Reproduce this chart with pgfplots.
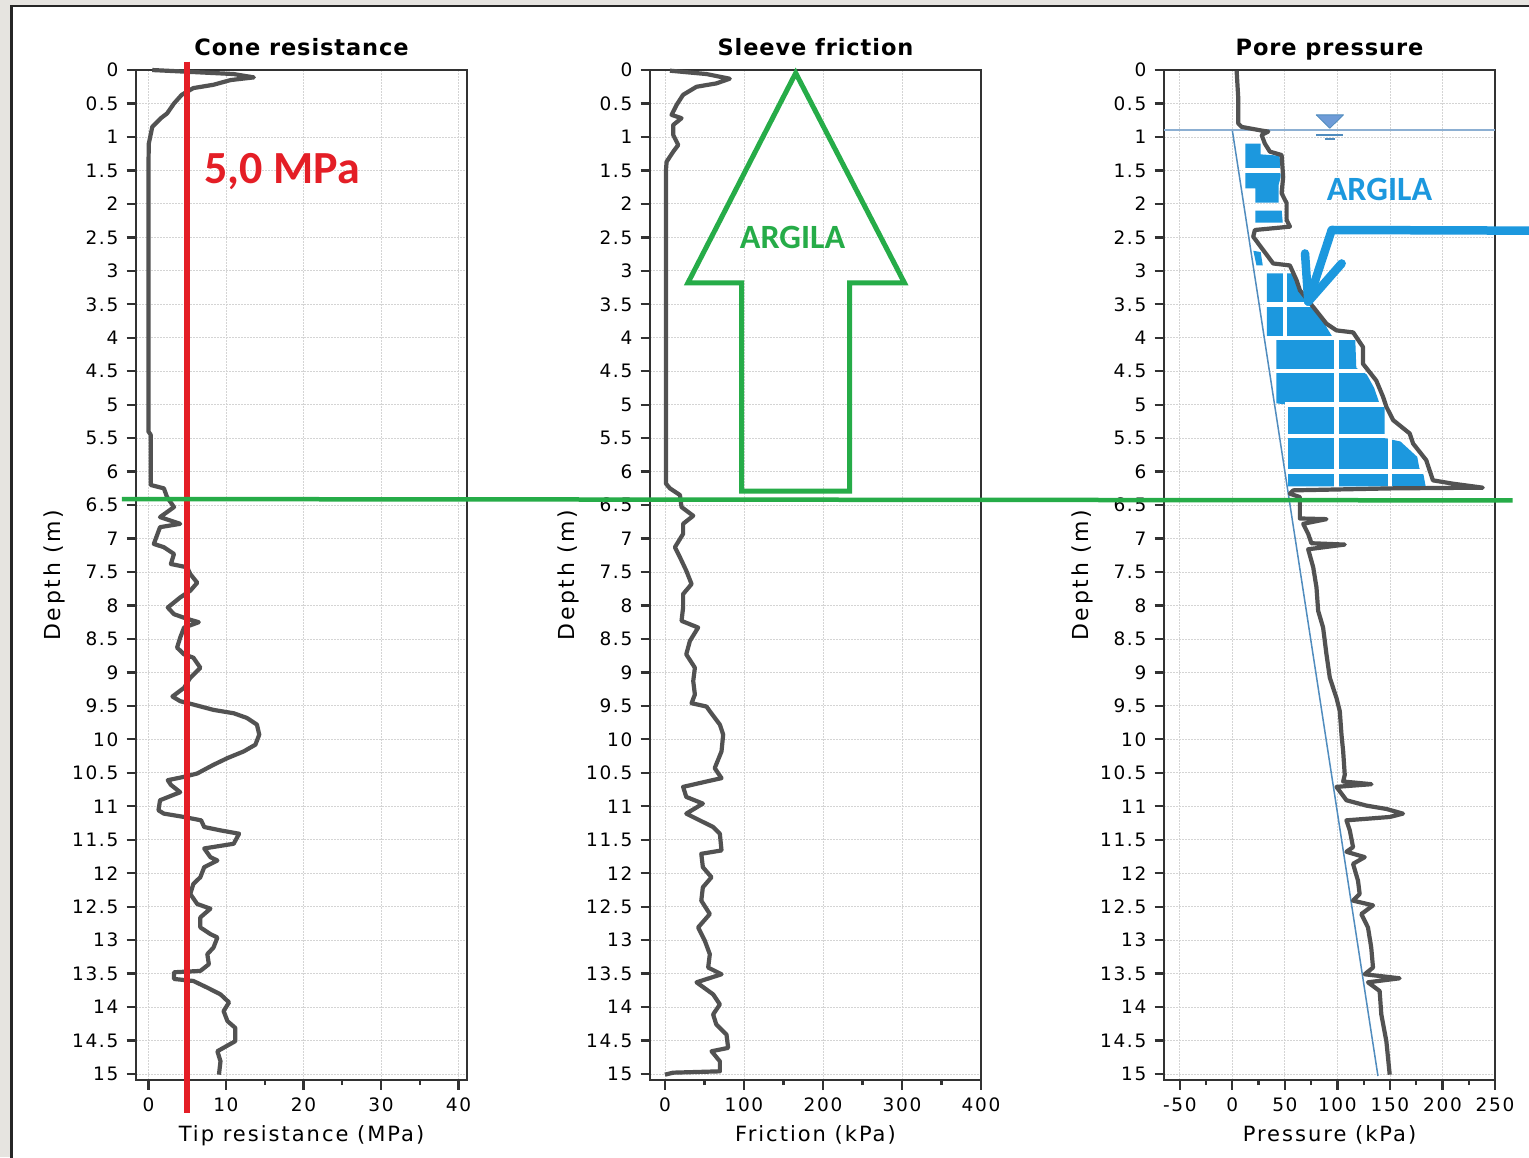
\documentclass[border=0pt]{standalone}
\usepackage{pgfplots}
\pgfplotsset{compat=1.18}
\usepackage{fontspec}
\setmainfont{DejaVu Sans}
\newfontfamily\tickfont[LetterSpace=9]{DejaVu Sans}
\newfontfamily\labfont[LetterSpace=9.5]{DejaVu Sans}
\newfontfamily\ylabfont[LetterSpace=12]{DejaVu Sans}
\newfontfamily\titfont[LetterSpace=4]{DejaVu Sans}
\newfontfamily\annfont{Carlito}

\definecolor{curve}{RGB}{82,82,82}
\definecolor{gridc}{RGB}{212,212,212}
\definecolor{axc}{RGB}{50,50,50}
\definecolor{pred}{RGB}{228,30,38}
\definecolor{pgreen}{RGB}{38,172,72}
\definecolor{pblue}{RGB}{28,152,222}
\definecolor{hydro}{RGB}{80,140,190}
\definecolor{wt}{RGB}{140,175,210}
\definecolor{wtfill}{RGB}{110,155,215}
\definecolor{bggray}{RGB}{230,228,224}

\pgfplotsset{cpt/.style={
  scale only axis, width=331pt, height=1010pt,
  y dir=reverse, ymin=0, ymax=15.09,
  ytick={0,0.5,1,1.5,2,2.5,3,3.5,4,4.5,5,5.5,6,6.5,7,7.5,8,8.5,9,9.5,10,10.5,11,11.5,12,12.5,13,13.5,14,14.5,15},
  clip=false,
  axis line style={axc, line width=2pt},
  tick style={axc, line width=2.3pt},
  tick align=outside,
  major tick length=9.5pt,
  minor tick length=5pt,
  tick pos=left,
  minor x tick num=1,
  grid=major,
  major grid style={gridc, line width=0.8pt, dash pattern=on 2pt off 1pt},
  /pgf/number format/assume math mode=true,
  tick label style={font=\tickfont\fontsize{18.5}{20}\selectfont},
  yticklabel style={anchor=east, inner sep=0pt, xshift=-8pt},
  xticklabel style={anchor=base, inner sep=0pt, yshift=-21.5pt},
  every axis x label/.style={at={(axis description cs:0.5,0)}, anchor=base, yshift=-61.7pt, inner sep=0pt, font=\labfont\fontsize{21}{24}\selectfont},
  every axis y label/.style={at={(axis description cs:-0.228,0.5)}, rotate=90, anchor=base, inner sep=0pt, font=\ylabfont\fontsize{22}{24}\selectfont},
  every axis title/.style={at={(axis description cs:0.5,1)}, anchor=base, yshift=15pt, inner sep=0pt, font=\titfont\bfseries\fontsize{22.5}{26}\selectfont},
  ylabel={Depth (m)},
  every axis plot/.append style={line join=round},
}}

\pgfplotstableread{
x y
0.5 0.0
11 0.06
13.6 0.11
10.6 0.15
8.4 0.22
5.8 0.27
4.3 0.37
3.3 0.50
2.4 0.65
1.6 0.72
0.5 0.85
0.05 1.1
0.0 1.5
0.0 5.4
0.3 5.45
0.3 6.2
2.0 6.25
2.4 6.38
3.3 6.53
1.5 6.68
4.1 6.78
1.5 6.83
0.7 7.08
2.0 7.13
3.3 7.23
2.9 7.38
5.0 7.43
5.4 7.53
6.3 7.66
5.4 7.78
4.1 7.88
2.5 8.03
3.3 8.13
5.0 8.20
6.5 8.25
4.6 8.33
4.1 8.48
3.7 8.63
4.6 8.73
5.8 8.78
6.7 8.93
5.4 9.08
4.6 9.23
3.1 9.36
4.1 9.43
5.8 9.48
8.4 9.56
11.0 9.61
12.7 9.68
14.0 9.78
14.3 9.93
13.8 10.08
12.3 10.18
10.2 10.28
8.4 10.38
6.3 10.51
4.6 10.56
2.5 10.61
2.9 10.68
4.1 10.79
1.5 10.91
1.3 11.06
2.0 11.11
4.6 11.16
6.8 11.21
7.2 11.31
9.3 11.36
11.7 11.41
11.0 11.56
7.2 11.63
8.0 11.76
8.9 11.81
7.2 11.91
6.7 12.06
5.8 12.16
5.4 12.31
6.3 12.46
8.0 12.53
6.7 12.66
6.7 12.81
8.0 12.91
8.9 12.96
8.4 13.11
7.6 13.21
7.8 13.36
6.7 13.46
3.3 13.48
3.3 13.58
5.8 13.61
7.6 13.71
9.3 13.81
10.4 13.93
9.7 14.06
10.2 14.21
11.2 14.31
11.2 14.51
8.9 14.66
9.3 14.81
9.1 15.01
}\qc

\pgfplotstableread{
x y
6.3 0.01
52.6 0.06
82 0.13
65 0.20
40 0.25
23 0.37
14.8 0.52
8.4 0.67
21 0.72
10.5 0.82
10.5 0.97
16.8 1.12
10.5 1.22
2.1 1.37
1.3 1.5
1.3 6.18
6.3 6.25
19 6.35
21 6.53
35.8 6.66
23 6.78
23 6.93
12.6 7.13
19 7.28
27 7.48
33.7 7.68
23 7.83
23 8.03
21 8.23
42 8.33
31.6 8.53
27 8.73
37.9 8.93
35.8 9.13
37.9 9.33
33.7 9.46
52.6 9.51
56.8 9.58
69.5 9.78
73.7 9.93
71.6 10.18
63 10.43
71.6 10.58
52.6 10.63
23 10.71
27 10.86
48 10.96
27 11.11
44 11.21
61 11.31
69.5 11.41
71.6 11.66
46 11.71
48 11.91
58.9 12.06
48 12.21
46 12.41
56.8 12.61
42 12.81
50.5 13.01
56.8 13.21
54.7 13.41
71.6 13.51
40 13.63
61 13.81
69.5 13.96
61 14.11
65 14.26
77.9 14.41
80 14.61
59 14.66
69.5 14.81
69.5 14.96
10.5 14.98
0 15.01
}\fs

\pgfplotstableread{
x y
4.1 0.01
5.7 0.43
5.7 0.80
8.9 0.85
26.3 0.90
34.2 0.92
27.9 0.97
31 1.10
35.8 1.22
46.9 1.27
48.4 1.60
46.9 1.84
51.7 1.99
51.7 2.24
54.8 2.34
21.5 2.39
19.9 2.49
38.9 2.89
54.8 2.92
61.1 3.14
64.3 3.29
77 3.54
89.6 3.79
99.1 3.89
115 3.92
124.4 4.14
124.4 4.39
137 4.64
143.4 4.88
146.6 5.03
153 5.23
168.8 5.43
172 5.58
184.6 5.83
187.7 5.98
190.9 6.13
209.9 6.18
238.4 6.24
153 6.25
58 6.28
54.8 6.33
64.3 6.38
64.3 6.58
64.3 6.70
89.6 6.71
67.4 6.78
72.2 6.93
75.3 7.07
107 7.09
72.2 7.16
77 7.43
80.1 7.73
81.7 8.08
86.4 8.33
89.6 8.73
92.8 9.08
99.1 9.38
102.3 9.58
103.9 9.93
105.5 10.18
107 10.53
105.5 10.63
132.4 10.67
99.1 10.71
108.6 10.91
127.6 10.99
146.6 11.04
162.4 11.11
149.8 11.16
108.6 11.21
111.8 11.36
114.9 11.61
108.6 11.68
126 11.76
114.9 11.86
119.6 12.11
121.2 12.31
114.9 12.41
133.9 12.48
122.8 12.61
129.1 12.81
132.2 13.11
133.9 13.41
126 13.51
159.2 13.57
129.1 13.63
140.2 13.76
141.8 14.11
146.6 14.51
149.8 15.01
}\pp

\begin{document}
\begin{tikzpicture}
\clip (0pt,0pt) rectangle (1529pt,-1157pt);
\fill[bggray] (0pt,0pt) rectangle (1529pt,-1157pt);
\draw[fill=white, draw=black!85, line width=2.5pt] (11.3pt,-6.2pt) rectangle (1580pt,-1200pt);

% ---------- Cone resistance
\begin{axis}[cpt, at={(136pt,-1080pt)}, anchor=south west,
  xmin=-1.6, xmax=41.1, xtick={0,10,20,30,40},
  title={Cone resistance}, xlabel={Tip resistance (MPa)}]
\addplot[curve, line width=4.2pt] table {\qc};
\addplot[pred, line width=6pt] coordinates {(5,-0.124) (5,15.58)};
\node[anchor=base west, inner sep=0pt, text=pred, font=\annfont\bfseries\fontsize{46}{50}\selectfont] at (axis cs:7.2,1.69) {5,0 MPa};
\end{axis}

% ---------- Sleeve friction
\begin{axis}[cpt, at={(650pt,-1080pt)}, anchor=south west,
  xmin=-18.9, xmax=400, xtick={0,100,200,300,400},
  title={Sleeve friction}, xlabel={Friction (kPa)}]
\addplot[curve, line width=4.2pt] table {\fs};
\addplot[pgreen, line width=5pt, line join=miter] coordinates {(165.5,0.045) (303.1,3.18) (233.7,3.18) (233.7,6.29) (96.9,6.29) (96.9,3.18) (29.1,3.18)} -- cycle;
\node[anchor=base west, inner sep=0pt, text=pgreen, font=\annfont\bfseries\fontsize{34}{40}\selectfont] at (axis cs:94.7,2.664) {ARGILA};
\end{axis}

% ---------- Pore pressure
\begin{axis}[cpt, at={(1164pt,-1080pt)}, anchor=south west,
  xmin=-65, xmax=250, xtick={-50,0,50,100,150,200,250},
  title={Pore pressure}, xlabel={Pressure (kPa)}]
% blue fill (clay zone)
\addplot[fill=pblue, draw=none] coordinates {(12.5,1.10) (27,1.10) (27,1.26) (45,1.28) (46,1.60) (44,1.72) (44,1.98) (22,1.98) (22,1.77) (12.5,1.77)} -- cycle;
\addplot[fill=pblue, draw=none] coordinates {(22,2.10) (47,2.10) (48,2.28) (22,2.28)} -- cycle;
\addplot[fill=pblue, draw=none] coordinates {(20,2.70) (27,2.72) (29,2.92) (23,2.92)} -- cycle;
\addplot[fill=pblue, draw=none] coordinates {(33,3.04) (58,3.04) (62,3.2) (68,3.35) (76,3.5) (85,3.7) (90,3.85) (95,3.98) (117,4.02) (118,4.45) (128,4.55) (135,4.75) (140,4.98) (145,5.02) (145,5.5) (160,5.55) (176,5.78) (178,5.95) (182,6.05) (184,6.22) (53,6.22) (53,5.0) (42,4.98) (42,4.02) (33,4.0)} -- cycle;
% white gaps through the fill
\addplot[white, line width=4.5pt] coordinates {(10,1.5) (47,1.5)};
\addplot[white, line width=4.5pt] coordinates {(30,3.5) (80,3.5)};
\addplot[white, line width=4.5pt] coordinates {(30,4.0) (120,4.0)};
\addplot[white, line width=4.5pt] coordinates {(40,4.5) (125,4.5)};
\addplot[white, line width=4.5pt] coordinates {(50,5.0) (146,5.0)};
\addplot[white, line width=4.5pt] coordinates {(50,5.47) (162,5.47)};
\addplot[white, line width=4.5pt] coordinates {(50,6.0) (183,6.0)};
\addplot[white, line width=4.5pt] coordinates {(50,3.0) (50,4.02)};
\addplot[white, line width=4.5pt] coordinates {(99,3.9) (99,6.25)};
\addplot[white, line width=4.5pt] coordinates {(150,5.0) (150,6.25)};
% hydrostatic and water table
\addplot[hydro, line width=1.5pt] coordinates {(0,0.9) (138.6,15.03)};
\addplot[wt, line width=1.5pt] coordinates {(-65,0.897) (250,0.897)};
\addplot[fill=wtfill, draw=hydro, line width=0.8pt] coordinates {(79.8,0.67) (105.8,0.67) (92.8,0.87)} -- cycle;
\addplot[hydro, line width=1.5pt] coordinates {(80,0.97) (105,0.97)};
\addplot[hydro, line width=1.5pt] coordinates {(88,1.03) (98,1.03)};
% pore pressure curve
\addplot[curve, line width=4.2pt] table {\pp};
% annotations
\node[anchor=base west, inner sep=0pt, text=pblue, font=\annfont\bfseries\fontsize{34}{40}\selectfont] at (axis cs:89.8,1.942) {ARGILA};
\addplot[pblue, line width=8.5pt, line cap=round, line join=round] coordinates {(290,2.40) (94.6,2.39) (72.3,3.46)};
\addplot[pblue, line width=8.5pt, line cap=round, line join=round] coordinates {(69.2,2.74) (72.3,3.46) (104.1,2.89)};
% green boundary line across the three panels
\addplot[pgreen, line width=4.5pt] coordinates {(-1056.8,6.41) (266.8,6.43)};
\end{axis}
\end{tikzpicture}
\end{document}
